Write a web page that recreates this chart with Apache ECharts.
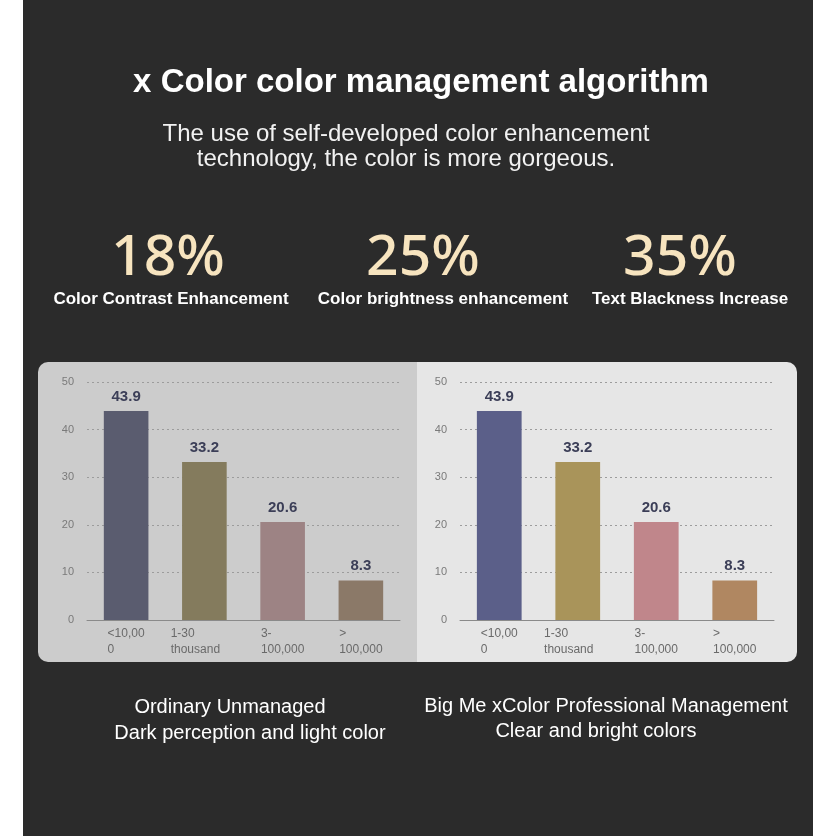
<!DOCTYPE html>
<html>
<head>
<meta charset="utf-8">
<script src="https://cdn.jsdelivr.net/npm/echarts@6/dist/echarts.min.js"></script>
<style>
  html, body { margin: 0; padding: 0; background: #ffffff; }
  #main { width: 836px; height: 836px; }
</style>
</head>
<body>
<div id="main"></div>
<script>
// data
var categories = ['<10,00\n0', '1-30\nthousand', '3-\n100,000', '>\n100,000'];
var shareUnmanaged = [43.9, 33.2, 20.6, 8.3];
var shareManaged = [43.9, 33.2, 20.6, 8.3];
var yTicks = [0, 10, 20, 30, 40, 50];
var stats = ['18%', '25%', '35%'];
var statNames = ['Color Contrast Enhancement', 'Color brightness enhancement', 'Text Blackness Increase'];

// colours
var barsLeft = ['#5a5c6f', '#847b5d', '#9d8384', '#8b7968'];
var barsRight = ['#5b5f89', '#a9945a', '#c0868b', '#b08761'];

var FONT = 'Liberation Sans, Arial, sans-serif';

function axisLabels() {
    return {
        color: '#6a6a6a',
        fontSize: 12,
        fontFamily: FONT,
        interval: 0,
        margin: 6,
        formatter: function (v) {
            return v.split('\n').map(function (s) { return '{a|' + s + '}'; }).join('\n');
        },
        rich: { a: { align: 'left', lineHeight: 16, fontSize: 12, color: '#6a6a6a', fontFamily: FONT } }
    };
}

function barSeries(idx, values, colors) {
    return {
        type: 'bar',
        xAxisIndex: idx,
        yAxisIndex: idx,
        barWidth: '57%',
        data: values.map(function (v, i) {
            return { value: v, itemStyle: { color: colors[i] } };
        }),
        label: {
            show: true,
            position: 'top',
            distance: 7,
            color: '#3b3e57',
            fontSize: 15,
            fontWeight: 'bold',
            fontFamily: FONT
        }
    };
}

function yAxis(idx) {
    return {
        gridIndex: idx,
        type: 'value',
        min: yTicks[0],
        max: yTicks[yTicks.length - 1],
        interval: 10,
        axisLine: { show: false },
        axisTick: { show: false },
        axisLabel: { color: '#7a7a7a', fontSize: 11, fontFamily: FONT, margin: 13 },
        splitLine: { lineStyle: { color: '#9c9c9c', type: [2, 3], width: 1 } }
    };
}

function xAxis(idx) {
    return {
        gridIndex: idx,
        type: 'category',
        // the second label sits a little left of its bar in the original
        data: categories.map(function (c, i) {
            return i === 1 ? { value: c, textStyle: { padding: [0, 18, 0, 0] } } : c;
        }),
        axisTick: { show: false },
        axisLine: { lineStyle: { color: '#8a8a8a', width: 1 } },
        axisLabel: axisLabels()
    };
}

function txt(x, y, text, size, color, weight, family) {
    return {
        type: 'text', x: x, y: y, z: 10,
        style: {
            text: text,
            fill: color,
            font: (weight || 'normal') + ' ' + size + 'px ' + (family || FONT),
            textAlign: 'center',
            textVerticalAlign: 'middle'
        }
    };
}

var graphics = [
    { type: 'rect', shape: { x: 23, y: 0, width: 790, height: 836 }, style: { fill: '#2b2b2b' }, z: -10 },
    { type: 'rect', shape: { x: 38, y: 362, width: 380, height: 300, r: [10, 0, 0, 10] }, style: { fill: '#cccccc' }, z: -9 },
    { type: 'rect', shape: { x: 417, y: 362, width: 380, height: 300, r: [0, 10, 10, 0] }, style: { fill: '#e6e6e6' }, z: -9 },
    txt(421, 83, 'x Color color management algorithm', 33, '#ffffff', 'bold'),
    txt(406, 134, 'The use of self-developed color enhancement', 24, '#f2f2f2'),
    txt(406, 159, 'technology, the color is more gorgeous.', 24, '#f2f2f2'),
    txt(230, 707, 'Ordinary Unmanaged', 20, '#ffffff'),
    txt(250, 733, 'Dark perception and light color', 20, '#ffffff'),
    txt(606, 706, 'Big Me xColor Professional Management', 20, '#ffffff'),
    txt(596, 731, 'Clear and bright colors', 20, '#ffffff')
];
var statX = [168, 423, 680];
var nameX = [171, 443, 690];
for (var i = 0; i < stats.length; i++) {
    graphics.push(txt(statX[i], 259, stats[i], 57, '#f7e4bf', '500', 'Noto Sans, sans-serif'));
    graphics.push(txt(nameX[i], 299, statNames[i], 17, '#ffffff', 'bold'));
}

var chart = echarts.init(document.getElementById('main'));
chart.setOption({
    animation: false,
    backgroundColor: 'transparent',
    grid: [
        { left: 87, right: 436, top: 382, bottom: 216 },
        { left: 460, right: 62, top: 382, bottom: 216 }
    ],
    xAxis: [xAxis(0), xAxis(1)],
    yAxis: [yAxis(0), yAxis(1)],
    series: [barSeries(0, shareUnmanaged, barsLeft), barSeries(1, shareManaged, barsRight)],
    graphic: graphics
});
</script>
</body>
</html>
